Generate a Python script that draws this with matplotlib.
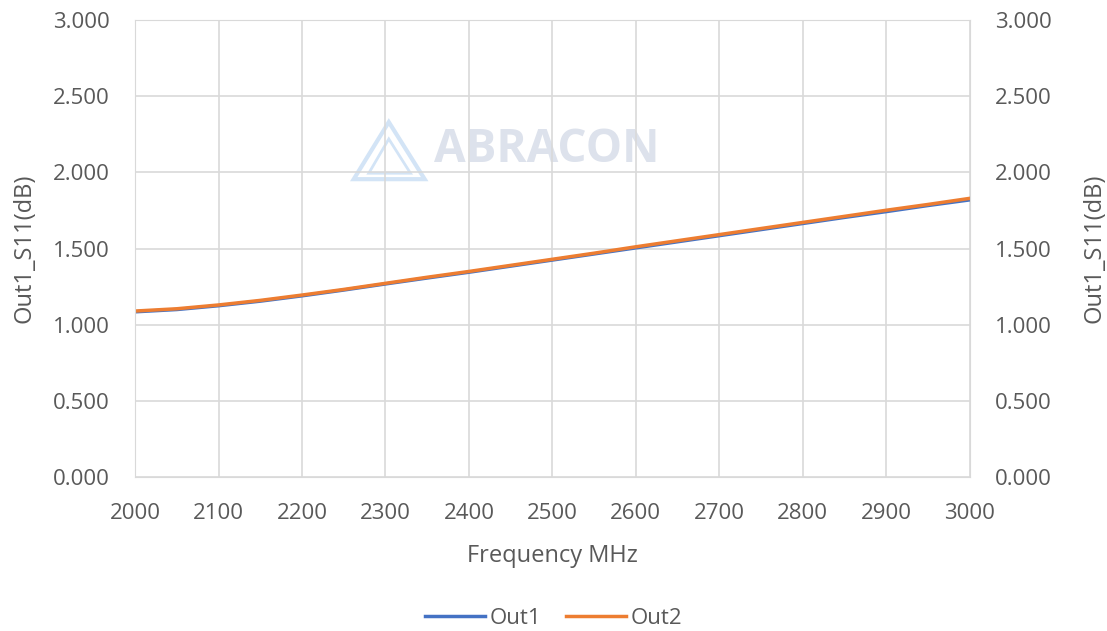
import matplotlib.pyplot as plt
from matplotlib.patches import Polygon

# Frequency points (MHz) and S11 readings
freq = [2000, 2050, 2100, 2150, 2200, 2250, 2300, 2350, 2400, 2450, 2500,
        2550, 2600, 2650, 2700, 2750, 2800, 2850, 2900, 2950, 3000]
out1 = [1.085, 1.100, 1.125, 1.155, 1.190, 1.228, 1.268, 1.307, 1.345, 1.385, 1.425,
        1.465, 1.505, 1.545, 1.585, 1.625, 1.665, 1.705, 1.743, 1.783, 1.820]
out2 = [1.090, 1.105, 1.130, 1.160, 1.195, 1.232, 1.272, 1.312, 1.350, 1.390, 1.430,
        1.470, 1.512, 1.552, 1.592, 1.632, 1.672, 1.712, 1.752, 1.790, 1.830]

xticks = list(range(2000, 3001, 100))
yticks = [0, 0.5, 1.0, 1.5, 2.0, 2.5, 3.0]

plt.rcParams['font.family'] = ['Open Sans', 'DejaVu Sans']
grey = '#595959'

fig = plt.figure(figsize=(11.07, 6.31), dpi=100)
ax = fig.add_axes([0.122, 0.244, 0.754, 0.724])

ax.plot(freq, out1, color='#4472c4', lw=2.5, label='Out1')
ax.plot(freq, out2, color='#ed7d31', lw=2.5, label='Out2')

ax.set_xlim(2000, 3000)
ax.set_ylim(0, 3)
ax.set_xticks(xticks)
ax.set_yticks(yticks)
ax.set_yticklabels([f'{v:.3f}' for v in yticks])
ax.grid(True, color='#d9d9d9', lw=1.2)
ax.set_axisbelow(True)
for s in ax.spines.values():
    s.set_color('#d9d9d9')
ax.tick_params(length=0, labelsize=16, colors=grey)
ax.tick_params(axis='y', pad=18)
ax.tick_params(axis='x', pad=19)
ax.set_xlabel('Frequency MHz', fontsize=17, color=grey, labelpad=14)
ax.set_ylabel('Out1_S11(dB)', fontsize=17, color=grey, labelpad=12)

ax2 = ax.twinx()
ax2.set_ylim(0, 3)
ax2.set_yticks(yticks)
ax2.set_yticklabels([f'{v:.3f}' for v in yticks])
ax2.tick_params(length=0, labelsize=16, colors=grey, pad=18)
for s in ax2.spines.values():
    s.set_visible(False)
ax2.set_ylabel('Out1_S11(dB)', fontsize=17, color=grey, labelpad=22)

# watermark
ax.text(0.358, 0.716, 'ABRACON', transform=ax.transAxes, fontsize=33,
        fontweight='bold', color='#dde2ec', ha='left', va='center', zorder=0)
logo_c = '#d3e4f6'
outer = Polygon([[0.262, 0.652], [0.347, 0.652], [0.304, 0.777]], closed=True,
                fill=False, ec=logo_c, lw=3, transform=ax.transAxes, zorder=0)
inner = Polygon([[0.280, 0.665], [0.330, 0.665], [0.304, 0.740]], closed=True,
                fill=False, ec=logo_c, lw=2, transform=ax.transAxes, zorder=0)
ax.add_patch(outer)
ax.add_patch(inner)

fig.legend(loc='center', ncol=2, frameon=False, fontsize=16,
           labelcolor=grey, bbox_to_anchor=(0.5, 1 - 618 / 631), handlelength=2.7,
           columnspacing=1.1, handletextpad=0.2)

fig.savefig('out.png', dpi=100)
